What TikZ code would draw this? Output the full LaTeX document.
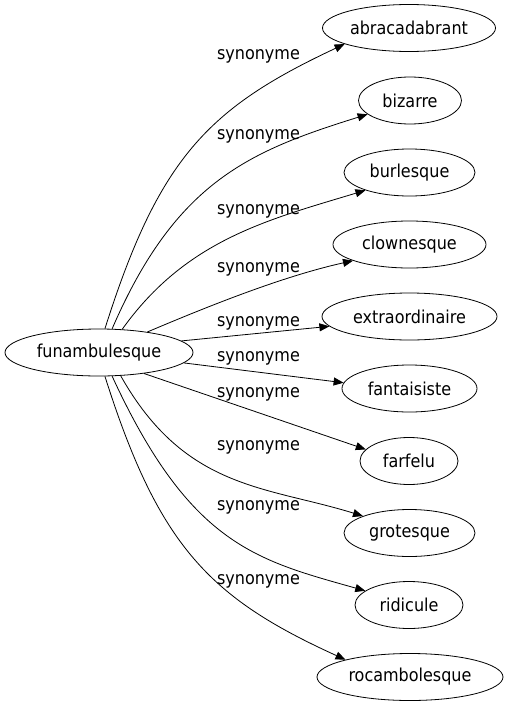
\documentclass[tikz,border=0pt]{standalone}
\usepackage{fontspec}
\setmainfont{DejaVu Sans Condensed}
\usetikzlibrary{shapes.geometric,arrows.meta}
\begin{document}
\begin{tikzpicture}[x=1pt,y=-1pt,
  nd/.style={draw,ellipse,line width=0.8pt,minimum height=47pt,inner sep=0pt,font=\fontsize{17.8}{20}\selectfont},
  lbl/.style={anchor=base,inner sep=0pt,font=\fontsize{17.8}{20}\selectfont},
  edge/.style={draw,line width=0.8pt,-{Triangle[length=10pt,width=8pt]}}]
\path[fill=white,use as bounding box] (0,0) rectangle (507,707);
\node[nd,minimum width=188pt] (fun) at (99,352.5) {funambulesque};
\node[nd,minimum width=173pt] (n1) at (409,28) {abracadabrant};
\node[nd,minimum width=103pt] (n2) at (410,100.5) {bizarre};
\node[nd,minimum width=131pt] (n3) at (409.5,172.5) {burlesque};
\node[nd,minimum width=153pt] (n4) at (409.5,244.5) {clownesque};
\node[nd,minimum width=175pt] (n5) at (409.5,316.5) {extraordinaire};
\node[nd,minimum width=135pt] (n6) at (409.5,388.5) {fantaisiste};
\node[nd,minimum width=98pt] (n7) at (409,461) {farfelu};
\node[nd,minimum width=131pt] (n8) at (409.5,533) {grotesque};
\node[nd,minimum width=108pt] (n9) at (409,605) {ridicule};
\node[nd,minimum width=186pt] (n10) at (410,677) {rocambolesque};
\path[edge] (fun.76) .. controls (159,158) and (208,108) .. (n1.194);
\path[edge] (fun.61) .. controls (176,181) and (250,151) .. (n2.198);
\path[edge] (fun.45) .. controls (186,240) and (267,220) .. (n3.202);
\path[edge] (fun.23) .. controls (211,305) and (284,276) .. (n4.196);
\path[edge] (fun.8) -- (n5.187);
\path[edge] (fun.-7) -- (n6.175);
\path[edge] (fun.-25) -- (n7.165);
\path[edge] (fun.-47) .. controls (185,490) and (266,486) .. (n8.160);
\path[edge] (fun.-61) .. controls (190,545) and (256,560) .. (n9.162);
\path[edge] (fun.-76) .. controls (159,547) and (210,598) .. (n10.165);
\node[lbl] (l1) at (258.5,59.8) {synonyme};
\node[lbl] (l2) at (258.5,139.8) {synonyme};
\node[lbl] (l3) at (258.5,214.8) {synonyme};
\node[lbl] (l4) at (258.5,272.8) {synonyme};
\node[lbl] (l5) at (258.5,326.8) {synonyme};
\node[lbl] (l6) at (258.5,361.8) {synonyme};
\node[lbl] (l7) at (258.5,397.8) {synonyme};
\node[lbl] (l8) at (258.5,450.8) {synonyme};
\node[lbl] (l9) at (258.5,510.8) {synonyme};
\node[lbl] (l10) at (258.5,584.8) {synonyme};
\end{tikzpicture}
\end{document}
